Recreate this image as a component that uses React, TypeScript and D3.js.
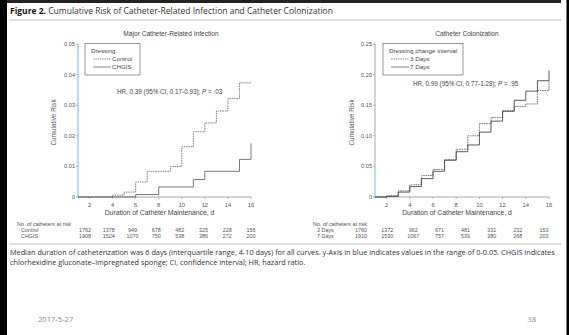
import React from 'react';
import * as d3 from 'd3';

// Left panel: major catheter-related infection (step change points)
const infDays = [1, 4, 5, 6, 7, 9, 10, 11, 12, 13, 14, 15, 16];
const controlRisk = [0, 0.0006, 0.0016, 0.0049, 0.0084, 0.01, 0.0164, 0.0213, 0.0242, 0.0281, 0.0322, 0.0373, 0.0373];
const chgisDays = [1, 6, 8, 11, 12, 15, 16];
const chgisRisk = [0, 0.0008, 0.0033, 0.0057, 0.0084, 0.0123, 0.0175];

// Right panel: catheter colonization
const colDays = [1, 2, 3, 4, 5, 6, 7, 8, 9, 10, 11, 12, 13, 14, 15, 16];
const days3Risk = [0, 0.002, 0.01, 0.02, 0.035, 0.045, 0.061, 0.078, 0.1, 0.12, 0.13, 0.141, 0.148, 0.152, 0.174, 0.19];
const days7Risk = [0, 0.001, 0.008, 0.017, 0.03, 0.042, 0.06, 0.074, 0.085, 0.106, 0.124, 0.14, 0.158, 0.173, 0.19, 0.207];

const xTicks = [2, 4, 6, 8, 10, 12, 14, 16];
const leftYTicks = [0, 0.01, 0.02, 0.03, 0.04, 0.05];
const leftYLabels = ['0', '0.01', '0.02', '0.03', '0.04', '0.05'];
const rightYTicks = [0, 0.05, 0.1, 0.15, 0.2, 0.25];
const rightYLabels = ['0', '0.05', '0.10', '0.15', '0.20', '0.25'];

const controlAtRisk = [1762, 1378, 949, 678, 482, 325, 228, 156];
const chgisAtRisk = [1908, 1524, 1070, 750, 538, 386, 272, 200];
const days3AtRisk = [1760, 1372, 962, 671, 481, 331, 232, 153];
const days7AtRisk = [1910, 1530, 1067, 757, 539, 380, 268, 203];

const W = 569;
const H = 335;
const plotFont = '"Liberation Sans", Arial, sans-serif';
const capFont = '"Open Sans", sans-serif';
const BLUE = '#5ec3ef';

type PanelProps = {
  x: d3.ScaleLinear<number, number>;
  y: d3.ScaleLinear<number, number>;
  yTicks: number[];
  yLabels: string[];
  blueTop: number;
  title: string;
  titleX: number;
  legendTitle: string;
  legendNames: string[];
  legendBox: [number, number];
  hr: React.ReactNode;
  hrPos: [number, number];
  series: { days: number[]; risk: number[]; dash?: string; color: string }[];
  rowNames: string[];
  rows: number[][];
  table: d3.ScalePoint<number>;
  tableLabelX: number;
  yTitleX: number;
};

const Panel = (p: PanelProps) => {
  const [x0, x1] = p.x.range();
  const y0 = p.y(0);
  const yTop = p.y(p.yTicks[p.yTicks.length - 1]);
  const line = d3.line<[number, number]>()
    .x(d => p.x(d[0]))
    .y(d => p.y(d[1]))
    .curve(d3.curveStepAfter);
  const lx = p.legendBox[0];
  return (
    <g fontFamily={plotFont}>
      <text x={p.titleX} y={36} fontSize={6.6} fill="#444" textAnchor="middle">{p.title}</text>
      {/* y axis */}
      <line x1={x0} x2={x0} y1={yTop} y2={p.y(p.blueTop)} stroke="#888" strokeWidth={0.7} />
      <line x1={x0} x2={x0} y1={y0} y2={p.y(p.blueTop)} stroke={BLUE} strokeWidth={1} />
      {p.yTicks.map((t, i) => (
        <g key={t}>
          <line x1={x0 - 2} x2={x0} y1={p.y(t)} y2={p.y(t)} stroke="#888" strokeWidth={0.6} />
          <text x={x0 - 3} y={p.y(t) + 2} fontSize={5.6} fill="#555" textAnchor="end">{p.yLabels[i]}</text>
        </g>
      ))}
      <text transform={`translate(${p.yTitleX},${(y0 + yTop) / 2 + 2}) rotate(-90)`} fontSize={6.4} fill="#555" textAnchor="middle">Cumulative Risk</text>
      {/* x axis */}
      <line x1={x0} x2={x1} y1={y0} y2={y0} stroke="#888" strokeWidth={0.7} />
      {xTicks.map(t => (
        <g key={t}>
          <line x1={p.x(t)} x2={p.x(t)} y1={y0} y2={y0 + 2} stroke="#888" strokeWidth={0.6} />
          <text x={p.x(t)} y={y0 + 9.5} fontSize={5.8} fill="#555" textAnchor="middle">{t}</text>
        </g>
      ))}
      <text x={(x0 + x1) / 2 - 5} y={y0 + 18} fontSize={6.8} fill="#444" textAnchor="middle">Duration of Catheter Maintenance, d</text>
      {/* curves */}
      {p.series.map((s, i) => (
        <path key={i} d={line(s.days.map((d, j) => [d, s.risk[j]] as [number, number])) || ''}
          fill="none" stroke={s.color} strokeWidth={0.8} strokeDasharray={s.dash} />
      ))}
      {/* legend */}
      <rect x={lx} y={43.5} width={p.legendBox[1]} height={31.5} fill="#fff" stroke="#555" strokeWidth={0.6} />
      <text x={lx + 6} y={52.5} fontSize={6.2} fill="#444">{p.legendTitle}</text>
      {p.legendNames.map((n, i) => (
        <g key={n}>
          <line x1={lx + 8} x2={lx + 26} y1={59 + i * 8} y2={59 + i * 8} stroke="#555" strokeWidth={0.7}
            strokeDasharray={i === 0 ? '1.5,0.8' : undefined} />
          <text x={lx + 27} y={61.2 + i * 8} fontSize={6.2} fill="#444">{n}</text>
        </g>
      ))}
      <text x={p.hrPos[0]} y={p.hrPos[1]} fontSize={6.3} fill="#444">{p.hr}</text>
      {/* at-risk table */}
      <text x={p.tableLabelX} y={226} fontSize={5.4} fill="#555">No. of catheters at risk</text>
      {p.rowNames.map((n, r) => (
        <g key={n}>
          <text x={p.tableLabelX + 4} y={232 + r * 6} fontSize={5.4} fill="#555">{n}</text>
          {p.rows[r].map((v, i) => (
            <text key={i} x={p.table(i)} y={232 + r * 6} fontSize={5.4} fill="#555" textAnchor="middle">{v}</text>
          ))}
        </g>
      ))}
    </g>
  );
};

export default function App() {
  const xL = d3.scaleLinear().domain([1, 16]).range([78, 251]);
  const yL = d3.scaleLinear().domain([0, 0.05]).range([197, 44]);
  const xR = d3.scaleLinear().domain([1, 16]).range([375, 549]);
  const yR = d3.scaleLinear().domain([0, 0.25]).range([197, 44]);
  const idx = d3.range(8);
  const tableL = d3.scalePoint<number>().domain(idx).range([85, 251]);
  const tableR = d3.scalePoint<number>().domain(idx).range([361, 544]);

  return (
    <div>
      <style>{'body{margin:0}'}</style>
      <svg width={W} height={H} style={{ display: 'block' }}>
        <rect width={W} height={H} fill="#fff" />
        <rect x={0} y={0} width={7} height={H} fill="#000" />
        <rect x={566.5} y={0} width={2.5} height={H} fill="#000" />
        <rect x={7} y={0} width={554} height={3} fill="#222" />

        <text x={10} y={13.5} fontFamily={capFont} fontSize={8.5} fill="#333">
          <tspan fontWeight="bold" fill="#111">Figure 2.</tspan> Cumulative Risk of Catheter-Related Infection and Catheter Colonization
        </text>
        <line x1={10} x2={561} y1={20} y2={20} stroke="#bbb" strokeWidth={1.2} />

        <Panel x={xL} y={yL} yTicks={leftYTicks} yLabels={leftYLabels} blueTop={0.05}
          title="Major Catheter-Related Infection" titleX={171}
          legendTitle="Dressing" legendNames={['Control', 'CHGIS']} legendBox={[85, 55]}
          hr={<>HR, 0.39 (95% CI, 0.17-0.93); <tspan fontStyle="italic">P</tspan> = .03</>} hrPos={[117, 94]}
          series={[
            { days: infDays, risk: controlRisk, dash: '1.6,0.8', color: '#666' },
            { days: chgisDays, risk: chgisRisk, color: '#555' },
          ]}
          rowNames={['Control', 'CHGIS']} rows={[controlAtRisk, chgisAtRisk]} table={tableL}
          tableLabelX={17} yTitleX={56} />

        <Panel x={xR} y={yR} yTicks={rightYTicks} yLabels={rightYLabels} blueTop={0.05}
          title="Catheter Colonization" titleX={467}
          legendTitle="Dressing change interval" legendNames={['3 Days', '7 Days']} legendBox={[383, 80]}
          hr={<>HR, 0.99 (95% CI, 0.77-1.28); <tspan fontStyle="italic">P</tspan> = .95</>} hrPos={[413, 85.5]}
          series={[
            { days: colDays, risk: days3Risk, dash: '1.6,0.8', color: '#555' },
            { days: colDays, risk: days7Risk, color: '#333' },
          ]}
          rowNames={['3 Days', '7 Days']} rows={[days3AtRisk, days7AtRisk]} table={tableR}
          tableLabelX={313} yTitleX={354} />

        <line x1={10} x2={561} y1={244} y2={244} stroke="#bbb" strokeWidth={1.2} />
        <text x={10} y={255} fontFamily={capFont} fontSize={7.3} fill="#333">
          Median duration of catheterization was 6 days (interquartile range, 4-10 days) for all curves. y-Axis in blue indicates values in the range of 0-0.05. CHGIS indicates
        </text>
        <text x={10} y={264.5} fontFamily={capFont} fontSize={7.3} fill="#333">
          chlorhexidine gluconate–impregnated sponge; CI, confidence interval; HR, hazard ratio.
        </text>

        <text x={38} y={322} fontFamily={capFont} fontSize={7.6} fill="#8a8a8a">2017-5-27</text>
        <text x={536} y={322} fontFamily={capFont} fontSize={7.6} fill="#8a8a8a" textAnchor="end">38</text>
      </svg>
    </div>
  );
}
